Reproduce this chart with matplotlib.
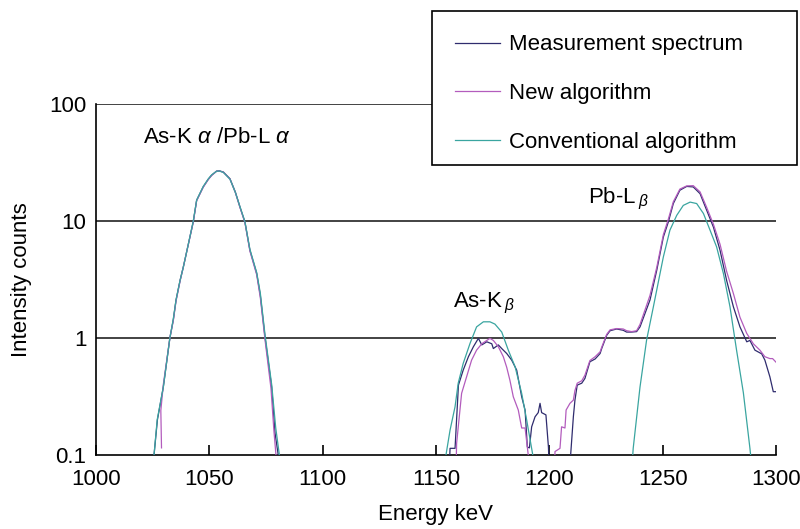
import numpy as np
import matplotlib
matplotlib.use("Agg")
from matplotlib import pyplot as plt
from matplotlib.patches import Rectangle

# energy (keV) and intensity, 0.05 = below the 0.1 floor
meas_e = [1024.5, 1025.6, 1027.1, 1029.7, 1032.6, 1034.1, 1035.3, 1037.1, 1038.5, 1040.5,
          1042.9, 1044.4, 1047.3, 1049.5, 1051.0, 1053.2, 1054.5, 1056.2, 1059.1, 1061.5,
          1063.5, 1065.7, 1067.9, 1070.9, 1072.5, 1074.6, 1077.5, 1079.0, 1080.4, 1081.5,
          1155.5, 1156.2, 1158.4, 1159.9, 1162.0, 1164.3, 1166.5, 1168.7, 1170.2, 1172.4,
          1174.6, 1175.3, 1177.5, 1179.0, 1181.2, 1183.4, 1185.6, 1187.8, 1189.3, 1190.3,
          1191.2, 1192.2, 1193.7, 1195.1, 1195.9, 1196.6, 1198.5, 1199.6, 1200.3, 1209.0,
          1209.4, 1210.6, 1211.3, 1212.3, 1214.3, 1215.7, 1217.9, 1220.2, 1222.4, 1223.1,
          1225.3, 1226.8, 1229.7, 1232.6, 1234.1, 1236.3, 1238.5, 1240.0, 1244.4, 1247.4,
          1250.3, 1252.5, 1254.7, 1257.6, 1260.6, 1263.5, 1266.5, 1269.4, 1272.4, 1275.3,
          1278.2, 1281.2, 1284.1, 1287.1, 1288.5, 1290.7, 1293.7, 1295.1, 1297.3, 1298.8,
          1300.0]
meas_v = [0.05, 0.1, 0.2, 0.38, 1.0, 1.42, 2.1, 3.1, 4.0, 6.0,
          9.75, 14.9, 19.4, 22.5, 24.4, 26.5, 26.6, 26.0, 22.8, 17.5,
          13.1, 9.75, 5.6, 3.54, 2.3, 1.0, 0.38, 0.153, 0.1, 0.05,
          0.05, 0.114, 0.114, 0.395, 0.53, 0.69, 0.84, 0.99, 0.87, 0.925,
          0.89, 0.81, 0.87, 0.81, 0.735, 0.645, 0.53, 0.314, 0.242, 0.117,
          0.115, 0.174, 0.212, 0.23, 0.276, 0.23, 0.22, 0.117, 0.05, 0.05,
          0.1, 0.212, 0.294, 0.395, 0.41, 0.45, 0.625, 0.66, 0.735, 0.81,
          1.05, 1.15, 1.19, 1.16, 1.12, 1.12, 1.13, 1.24, 2.1, 3.78,
          7.25, 9.75, 14.0, 18.2, 19.6, 19.4, 17.0, 12.3, 8.8, 5.6,
          3.1, 1.84, 1.24, 0.925, 0.95, 0.785, 0.73, 0.645, 0.465, 0.347,
          0.347]

new_e = [1028.9, 1028.6, 1029.7, 1032.6, 1034.1, 1035.3, 1037.1, 1038.5, 1040.5, 1042.9,
         1044.4, 1047.3, 1049.5, 1051.0, 1053.2, 1054.5, 1056.2, 1059.1, 1061.5, 1063.5,
         1065.7, 1067.9, 1070.9, 1072.5, 1074.6, 1077.2, 1078.5, 1079.4, 1080.0,
         1158.6, 1159.1, 1161.3, 1163.5, 1165.7, 1167.9, 1170.2, 1172.4, 1173.8, 1175.3,
         1177.5, 1179.7, 1181.2, 1182.6, 1184.1, 1186.3, 1187.8, 1189.3, 1190.7, 1191.2,
         1202.0, 1202.5, 1204.7, 1205.4, 1206.9, 1207.4, 1209.1, 1210.6, 1211.3, 1212.3,
         1214.3, 1215.7, 1217.9, 1220.2, 1222.4, 1223.1, 1225.3, 1226.8, 1229.7, 1232.6,
         1234.1, 1236.3, 1238.5, 1240.0, 1244.4, 1247.4, 1250.3, 1252.5, 1254.7, 1257.6,
         1260.6, 1263.5, 1266.5, 1269.4, 1272.4, 1275.3, 1278.2, 1281.2, 1284.1, 1287.1,
         1290.0, 1292.9, 1295.1, 1297.3, 1298.5, 1300.0]
new_v = [0.115, 0.24, 0.4, 1.0, 1.4, 2.05, 3.05, 4.0, 6.0, 9.7,
         14.8, 19.3, 22.4, 24.3, 26.4, 26.5, 25.9, 22.7, 17.3, 13.0,
         9.6, 5.5, 3.45, 2.2, 0.95, 0.37, 0.16, 0.1, 0.05,
         0.05, 0.126, 0.336, 0.465, 0.645, 0.785, 0.89, 0.95, 0.99, 0.95,
         0.84, 0.69, 0.56, 0.435, 0.314, 0.242, 0.17, 0.17, 0.1, 0.05,
         0.05, 0.107, 0.114, 0.174, 0.17, 0.242, 0.276, 0.294, 0.355, 0.41,
         0.43, 0.48, 0.64, 0.69, 0.76, 0.83, 1.07, 1.17, 1.2, 1.19,
         1.15, 1.13, 1.15, 1.3, 2.3, 4.0, 7.6, 10.3, 14.5, 18.6,
         19.8, 19.9, 17.6, 13.0, 9.3, 6.3, 3.7, 2.39, 1.5, 1.09,
         0.89, 0.785, 0.69, 0.665, 0.665, 0.62]

conv_e = [1024.8, 1025.6, 1027.0, 1029.7, 1032.6, 1034.1, 1035.3, 1037.1, 1038.5, 1040.5,
          1042.9, 1044.4, 1047.3, 1049.5, 1051.0, 1053.2, 1054.5, 1056.2, 1059.1, 1061.5,
          1063.5, 1065.7, 1067.9, 1070.9, 1072.5, 1074.6, 1077.5, 1079.3, 1080.9, 1081.5,
          1153.8, 1154.4, 1156.2, 1158.4, 1159.8, 1162.0, 1165.0, 1167.9, 1170.9, 1173.8,
          1176.0, 1179.0, 1181.9, 1184.9, 1187.8, 1190.0, 1192.7, 1193.3,
          1236.3, 1236.8, 1237.0, 1240.0, 1242.9, 1245.9, 1250.3, 1253.2, 1256.2, 1259.1,
          1262.1, 1265.0, 1268.0, 1270.9, 1273.8, 1276.8, 1279.7, 1282.6, 1285.6, 1288.5,
          1288.8, 1289.3]
conv_v = [0.05, 0.1, 0.2, 0.38, 1.0, 1.45, 2.1, 3.1, 4.0, 6.0,
          9.9, 15.0, 19.6, 22.7, 24.6, 26.4, 26.5, 25.8, 22.6, 17.4,
          13.2, 9.8, 5.7, 3.6, 2.4, 1.05, 0.4, 0.17, 0.1, 0.05,
          0.05, 0.1, 0.163, 0.258, 0.41, 0.605, 0.895, 1.24, 1.37, 1.37,
          1.31, 1.12, 0.785, 0.566, 0.336, 0.199, 0.1, 0.05,
          0.05, 0.1, 0.114, 0.38, 0.955, 1.84, 4.9, 8.3, 11.1, 13.5,
          14.4, 14.0, 11.5, 8.3, 5.97, 3.54, 1.84, 0.785, 0.34, 0.114,
          0.1, 0.05]

x_ticks = [1000, 1050, 1100, 1150, 1200, 1250, 1300]
y_ticks = [0.1, 1, 10, 100]
y_labels = ["0.1", "1", "10", "100"]

plt.rcParams['font.family'] = ['Liberation Sans', 'DejaVu Sans']
plt.rcParams['mathtext.fontset'] = 'custom'
plt.rcParams['mathtext.it'] = 'Liberation Sans:italic'
plt.rcParams['mathtext.rm'] = 'Liberation Sans'
fs = 16

fig = plt.figure(figsize=(8, 5.29), dpi=100)
ax = fig.add_axes([96/800, 1-455/529, 680/800, (455-103.5)/529])

ax.set_yscale('log')
ax.set_xlim(1000, 1300)
ax.set_ylim(0.1, 100)

for v in [1, 10, 100]:
    ax.axhline(v, color='#222222', lw=1.2, zorder=1)

ax.plot(meas_e, meas_v, color='#2f2c6e', lw=0.9, label='Measurement spectrum', zorder=3)
ax.plot(new_e, new_v, color='#b35cbd', lw=0.9, label='New algorithm', zorder=3)
ax.plot(conv_e, conv_v, color='#3aa5a0', lw=0.9, label='Conventional algorithm', zorder=3)

ax.spines['top'].set_visible(False)
ax.spines['right'].set_visible(False)
ax.spines['left'].set_linewidth(1.2)
ax.spines['bottom'].set_linewidth(1.2)

ax.set_xticks(x_ticks)
ax.set_yticks(y_ticks)
ax.set_yticklabels(y_labels)
ax.minorticks_off()
ax.tick_params(axis='x', direction='in', length=7, width=1.2, pad=10, labelsize=fs)
ax.tick_params(axis='y', length=0, pad=7, labelsize=fs)

ax.set_xlabel('Energy keV', fontsize=fs, labelpad=10)
ax.set_ylabel('Intensity counts', fontsize=fs, labelpad=12)

ax.text(1020.7, 45.7, r'As-K $\alpha$ /Pb-L $\alpha$', fontsize=fs, va='baseline')
ax.text(1157.5, 1.83, r'As-K$\,_{\beta}$', fontsize=fs, va='baseline')
ax.text(1217, 14.1, r'Pb-L$\,_{\beta}$', fontsize=fs, va='baseline')

# legend box drawn by hand so the padding matches
box = Rectangle((432/800, 1-165/529), 365/800, 154/529, transform=fig.transFigure,
                facecolor='white', edgecolor='black', lw=1.2, clip_on=False, zorder=4)
ax.add_patch(box)

leg = ax.legend(loc='upper left', bbox_to_anchor=(432/800, 1-11/529, 365/800, 0.0),
                bbox_transform=fig.transFigure, mode='expand', fontsize=fs,
                frameon=False, borderaxespad=0,
                borderpad=1.05, handlelength=2.0, handletextpad=0.4, labelspacing=1.25)
leg.set_zorder(5)

plt.savefig('out.png', dpi=100)
